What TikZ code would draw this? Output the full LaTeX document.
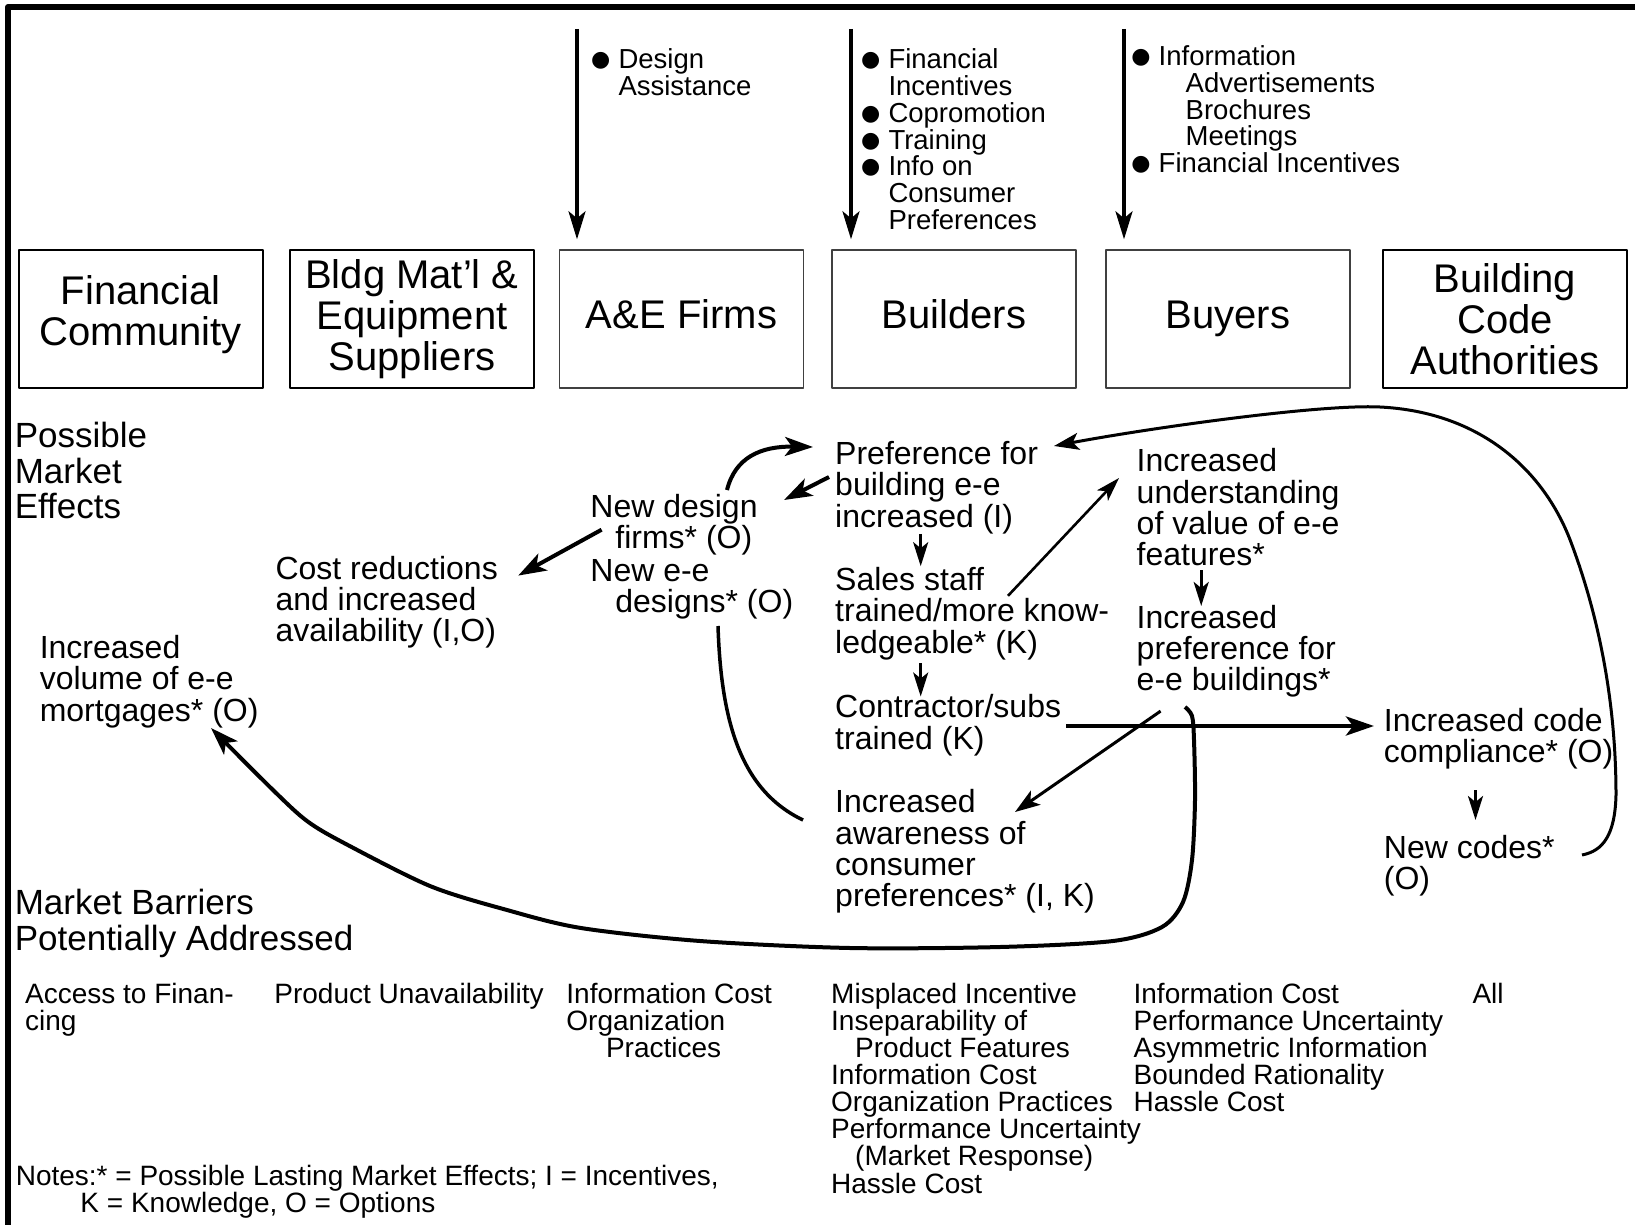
\documentclass[tikz,border=0pt]{standalone}
\usepackage{fontspec}
\setmainfont{Liberation Sans}
\newfontfamily\symfont{DejaVu Sans}
\usetikzlibrary{arrows.meta}
\newcommand\mystrut{\rule{0pt}{0.8em}}
\newcommand\lowerby[1]{\rule[-#1]{0pt}{0pt}}
\newcommand\indt[1]{\makebox[#1]{}}
\newcommand\bul{\makebox[27.3pt][l]{\raisebox{2pt}{\symfont\fontsize{22}{22}\selectfont ●}}}
\newcommand\bsp{\makebox[27.3pt]{}}
\tikzset{
  actor/.style={draw, line width=2pt, minimum width=244pt, minimum height=138pt, inner sep=0pt, align=center, font=\fontsize{40}{41}\selectfont},
  lightactor/.style={actor, draw=black!75, line width=1.4pt},
  mid/.style={anchor=north west, inner sep=0pt, align=left, font=\fontsize{32}{31.3}\selectfont},
  side/.style={anchor=north west, inner sep=0pt, align=left, font=\fontsize{35}{35.5}\selectfont},
  toptxt/.style={anchor=north west, inner sep=0pt, align=left, font=\fontsize{27.5}{26.75}\selectfont},
  bottxt/.style={anchor=north west, inner sep=0pt, align=left, font=\fontsize{28}{27.1}\selectfont},
  toparrow/.style={line width=3.6pt, -{Stealth[length=28pt,width=17pt,inset=7pt]}},
  bigtip/.style={-{Stealth[length=28pt,width=19pt,inset=7pt]}},
  midtip/.style={-{Stealth[length=25pt,width=17pt,inset=6pt]}},
  smalltip/.style={-{Stealth[length=24pt,width=15pt,inset=6pt]}},
}
\begin{document}
\begin{tikzpicture}[x=1pt,y=-1pt,line join=round]
\useasboundingbox (0,0) rectangle (1635,1225);
% frame
\draw[line width=6pt] (8,1225) -- (8,7) -- (1635,7);

% actors
\node[actor] (fin) at (140.8,319) {Financial\\Community\lowerby{17pt}};
\node[actor] (bldg) at (412,319) {Bldg Mat’l \&\\Equipment\\Suppliers};
\node[lightactor] (ae) at (681.5,319) {A\&E Firms\lowerby{10.4pt}};
\node[lightactor] (builders) at (954,319) {Builders\lowerby{10.4pt}};
\node[lightactor] (buyers) at (1228,319) {Buyers};
\node[actor] (code) at (1505,319) {Building\\Code\\Authorities};

% top arrows and program actions
\coordinate (aetop) at (577,29);
\coordinate (bldtop) at (851,29);
\coordinate (buytop) at (1124,29);
\draw[toparrow] (aetop) -- ([yshift=10pt]aetop |- ae.north);
\draw[toparrow] (bldtop) -- ([yshift=10pt]bldtop |- builders.north);
\draw[toparrow] (buytop) -- ([yshift=10pt]buytop |- buyers.north);

\node[toptxt] (aeact) at (591,46.7) {\mystrut\bul Design\\\bsp Assistance};
\node[toptxt] (bldact) at (861,46.7) {\mystrut\bul Financial\\\bsp Incentives\\\bul Copromotion\\\bul Training\\\bul Info on\\\bsp Consumer\\\bsp Preferences};
\node[toptxt] (buyact) at (1131.2,43.5) {\mystrut\bul Information\\\indt{54.3pt}Advertisements\\\indt{54.3pt}Brochures\\\indt{54.3pt}Meetings\\\bul Financial Incentives};

% side labels
\node[side] (pme) at (14.6,419.4) {\mystrut Possible\\Market\\Effects};
\node[side] (mba) at (14.6,886.5) {\mystrut Market Barriers\\Potentially Addressed};

% market effects
\node[mid] (pref) at (835,438.6) {\mystrut Preference for\\building e-e\\increased (I)};
\node[mid] (ndf) at (590.2,491.8) {\mystrut New design\\\indt{25pt}firms* (O)};
\node[mid] (nde) at (590.2,555.4) {\mystrut New e-e\\\indt{25pt}designs* (O)};
\node[mid] (cost) at (275.3,553.3) {\mystrut Cost reductions\\and increased\\availability (I,O)};
\node[mid] (mort) at (39.6,632.6) {\mystrut Increased\\volume of e-e\\mortgages* (O)};
\node[mid] (sales) at (835,564.8) {\mystrut Sales staff\\trained/more know-\\ledgeable* (K)};
\node[mid] (contr) at (835,692) {\mystrut Contractor/subs\\trained (K)};
\node[mid] (aware) at (835,786.9) {\mystrut Increased\\awareness of\\consumer\\preferences* (I, K)};
\node[mid] (underst) at (1136.5,446) {\mystrut Increased\\understanding\\of value of e-e\\features*};
\node[mid] (incpref) at (1136.5,602.3) {\mystrut Increased\\preference for\\e-e buildings*};
\node[mid] (codecomp) at (1383.7,705.5) {\mystrut Increased code\\compliance* (O)};
\node[mid] (newcodes) at (1383.7,832.7) {\mystrut New codes*\\(O)};

% barriers
\node[bottxt] (b1) at (25,980.7) {\mystrut Access to Finan-\\cing};
\node[bottxt] (b2) at (274.2,980.7) {\mystrut Product Unavailability};
\node[bottxt] (b3) at (566.2,980.7) {\mystrut Information Cost\\Organization\\\indt{39.6pt}Practices};
\node[bottxt] (b4) at (831,980.7) {\mystrut Misplaced Incentive\\Inseparability of\\\indt{24pt}Product Features\\Information Cost\\Organization Practices\\Performance Uncertainty\\\indt{24pt}(Market Response)\\Hassle Cost};
\node[bottxt] (b5) at (1133.4,980.7) {\mystrut Information Cost\\Performance Uncertainty\\Asymmetric Information\\Bounded Rationality\\Hassle Cost};
\node[bottxt] (b6) at (1472.3,980.7) {\mystrut All};
\node[bottxt] (notes) at (15.6,1163.2) {\mystrut Notes:* = Possible Lasting Market Effects; I = Incentives,\\\indt{64.7pt}K = Knowledge, O = Options};

% connectors
\draw[line width=4pt, bigtip] ([shift={(136.8,-1.8)}]ndf.north west) .. controls (735,458) and (760,446) .. ([shift={(-22,8.4)}]pref.north west);
\draw[line width=4pt, bigtip] ([shift={(-6,38.4)}]pref.north west) -- ([shift={(193.8,8.2)}]ndf.north west);
\draw[line width=4pt, bigtip] ([shift={(11.4,37.9)}]ndf.north west) -- ([shift={(242.9,22.3)}]cost.north west);
\draw[line width=3pt, smalltip] ([shift={(85.7,95.3)}]pref.north west) -- ([shift={(85.7,1.4)}]sales.north west);
\draw[line width=3pt, smalltip] ([shift={(85.7,98.4)}]sales.north west) -- ([shift={(85.7,4.5)}]contr.north west);
\draw[line width=2.6pt, smalltip] ([shift={(173,31)}]sales.north west) -- ([shift={(-17.5,32)}]underst.north west);
\draw[line width=3pt, smalltip] ([shift={(64.7,124)}]underst.north west) -- ([shift={(64.7,3.7)}]incpref.north west);
\draw[line width=4.5pt, bigtip] ([shift={(231,34)}]contr.north west) -- ([shift={(-9.7,20.5)}]codecomp.north west);
\draw[line width=3pt, midtip] ([shift={(24.1,108.8)}]incpref.north west) -- ([shift={(180,25.1)}]aware.north west);
\draw[line width=3pt, smalltip] ([shift={(91.8,84.5)}]codecomp.north west) -- ([shift={(91.8,-12.7)}]newcodes.north west);
\draw[line width=3pt, midtip] ([shift={(198.3,22.3)}]newcodes.north west)
   .. controls (1603,851) and (1615,835) .. (1616,795)
   .. controls (1616,700) and (1598,615) .. (1572,545)
   .. controls (1545,470) and (1480,412) .. (1380,407)
   .. controls (1320,404) and (1150,428) .. ([shift={(219,7.4)}]pref.north west);
\draw[line width=3.5pt] ([shift={(127.8,70.6)}]nde.north west) .. controls (721,720) and (740,790) .. ([shift={(-32,33.1)}]aware.north west);
\draw[line width=4pt, bigtip] plot[smooth, tension=0.5] coordinates {([shift={(48.5,104.7)}]incpref.north west) (1192,716) (1194,740) (1195,800) (1192,860) (1183,902) (1162,927) (1113,941) (1000,947) (850,948) (700,941) (581,928) (507,910) (430,886) (344,843) (307,821) (274,791) ([shift={(171.4,95.4)}]mort.north west)};
\end{tikzpicture}
\end{document}
